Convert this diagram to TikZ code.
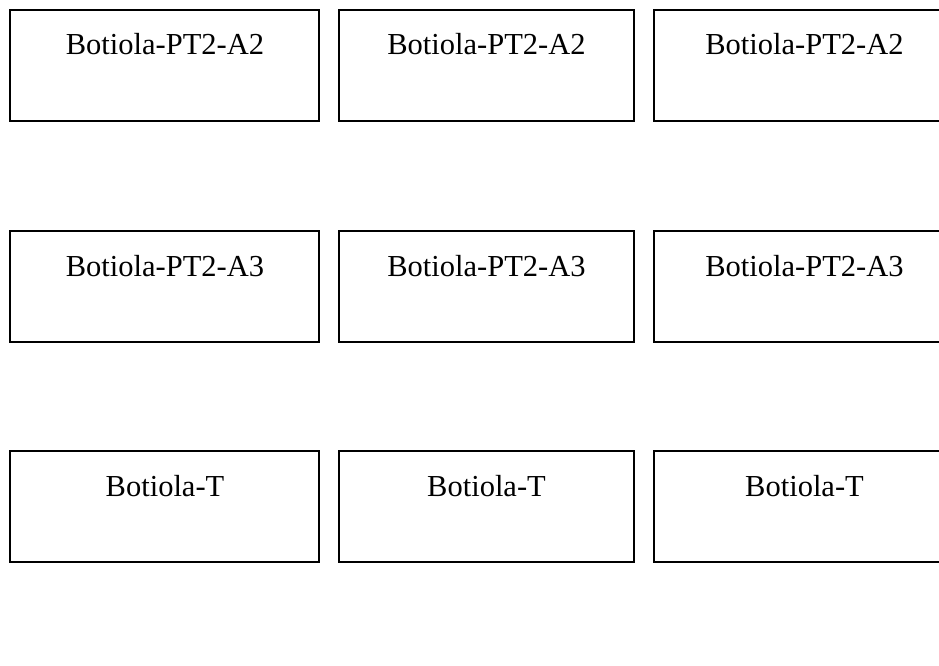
\documentclass[tikz,border=0pt]{standalone}
\usepackage{fontspec}
\setmainfont{Liberation Serif}

\tikzset{
  cell/.style={draw, line width=1.3pt, rectangle, minimum height=111pt, inner sep=0pt},
  cellname/.style={anchor=base, inner sep=0pt, font=\fontsize{30.5}{36}\selectfont}
}

\begin{document}
\begin{tikzpicture}[x=1pt,y=1pt,yscale=-1,xscale=1]
\useasboundingbox (0,0) rectangle (939,666);

% Row: Botiola-PT2-A2
\node [cell, minimum width=309pt] (a2left) at (164.5,65.5) {};
\node [cell, minimum width=295pt] (a2mid) at (486.5,65.5) {};
\node [cell, minimum width=301pt] (a2right) at (804.5,65.5) {};
\node [cellname] (a2lefttxt) at (165,55) {Botiola-PT2-A2};
\node [cellname] (a2midtxt) at (486.5,55) {Botiola-PT2-A2};
\node [cellname] (a2righttxt) at (804.5,55) {Botiola-PT2-A2};

% Row: Botiola-PT2-A3
\node [cell, minimum width=309pt] (a3left) at (164.5,286.5) {};
\node [cell, minimum width=295pt] (a3mid) at (486.5,286.5) {};
\node [cell, minimum width=301pt] (a3right) at (804.5,286.5) {};
\node [cellname] (a3lefttxt) at (165,276) {Botiola-PT2-A3};
\node [cellname] (a3midtxt) at (486.5,276) {Botiola-PT2-A3};
\node [cellname] (a3righttxt) at (804.5,276) {Botiola-PT2-A3};

% Row: Botiola-T
\node [cell, minimum width=309pt] (tleft) at (164.5,506.5) {};
\node [cell, minimum width=295pt] (tmid) at (486.5,506.5) {};
\node [cell, minimum width=301pt] (tright) at (804.5,506.5) {};
\node [cellname] (tlefttxt) at (165,496) {Botiola-T};
\node [cellname] (tmidtxt) at (486.5,496) {Botiola-T};
\node [cellname] (trighttxt) at (804.5,496) {Botiola-T};

\end{tikzpicture}
\end{document}
